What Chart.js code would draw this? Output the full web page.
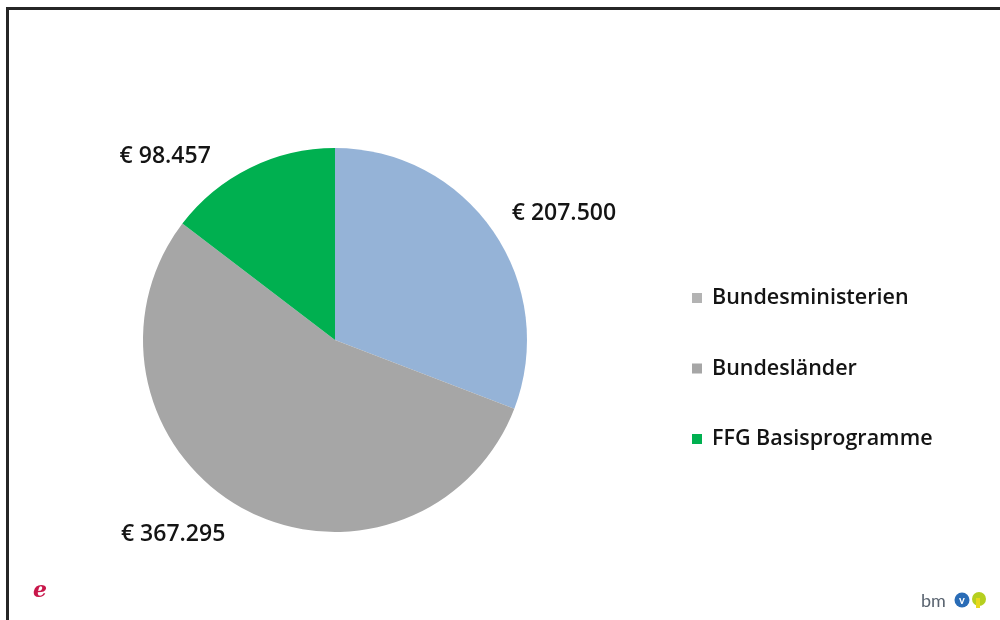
<!DOCTYPE html>
<html>
<head>
<meta charset="utf-8">
<script src="https://cdn.jsdelivr.net/npm/chart.js@4"></script>
<style>
  html, body { margin: 0; padding: 0; background: #fff; }
  #wrap { position: relative; width: 1000px; height: 620px; }
  #frame { position: absolute; left: 6px; top: 7px; right: 0; bottom: 0;
           border-top: 3px solid #262626; border-left: 3px solid #262626; }
  canvas { position: absolute; left: 0; top: 0; }
</style>
</head>
<body>
<div id="wrap">
  <div id="frame"></div>
  <canvas id="chart" width="1000" height="620"></canvas>
</div>
<script>
// Finanzierung nach Quelle
const labels = ['Bundesministerien', 'Bundesländer', 'FFG Basisprogramme'];
const values = [207500, 367295, 98457];
const sliceColors = ['#95b3d7', '#a6a6a6', '#00b050'];
const legendColors = ['#b3b3b3', '#a6a6a6', '#00b050'];

const FONT = '"Open Sans", Lato, sans-serif';

function euro(v) {
  return '€ ' + String(v).replace(/\B(?=(\d{3})+(?!\d))/g, '.');
}

// Wertbeschriftungen außerhalb der Segmente (kleine Korrekturen wie bei Excel "optimale Anpassung")
const labelNudge = [[-2, -4], [-4, 5], [-28, 11]];

const valueLabels = {
  id: 'valueLabels',
  afterDatasetsDraw(chart) {
    const ctx = chart.ctx;
    const arcs = chart.getDatasetMeta(0).data;
    ctx.save();
    ctx.font = '600 23px ' + FONT;
    ctx.fillStyle = '#141414';
    ctx.textBaseline = 'middle';
    arcs.forEach((arc, i) => {
      const p = arc.getProps(['x', 'y', 'startAngle', 'endAngle', 'outerRadius']);
      const mid = (p.startAngle + p.endAngle) / 2;
      const r = p.outerRadius * 1.13;
      const tx = p.x + Math.cos(mid) * r + labelNudge[i][0];
      const ty = p.y + Math.sin(mid) * r + labelNudge[i][1];
      ctx.textAlign = Math.cos(mid) >= 0 ? 'left' : 'right';
      ctx.fillText(euro(chart.data.datasets[0].data[i]), tx, ty);
    });
    ctx.restore();
  }
};

// Legende rechts
const sideLegend = {
  id: 'sideLegend',
  afterDraw(chart) {
    const ctx = chart.ctx;
    ctx.save();
    ctx.font = '600 21.5px ' + FONT;
    ctx.textBaseline = 'middle';
    ctx.textAlign = 'left';
    chart.data.labels.forEach((lab, i) => {
      const y = 298 + i * 70.5;
      ctx.fillStyle = legendColors[i];
      ctx.fillRect(692, y - 5, 10, 10);
      ctx.fillStyle = '#141414';
      ctx.fillText(lab, 712, y);
    });
    ctx.restore();
  }
};

// Logos unten
const logos = {
  id: 'logos',
  afterDraw(chart) {
    const ctx = chart.ctx;
    ctx.save();
    ctx.font = 'italic bold 22px "DejaVu Serif", serif';
    ctx.fillStyle = '#c8174a';
    ctx.textBaseline = 'alphabetic';
    ctx.fillText('e', 33, 597);
    ctx.font = '18px Lato, sans-serif';
    ctx.fillStyle = '#5a6470';
    ctx.fillText('bm', 921, 607);
    ctx.fillStyle = '#2a6cb6';
    ctx.beginPath();
    ctx.arc(962, 600, 7.5, 0, Math.PI * 2);
    ctx.fill();
    ctx.fillStyle = '#fff';
    ctx.font = 'bold 11px Lato, sans-serif';
    ctx.textAlign = 'center';
    ctx.fillText('v', 962, 604);
    ctx.fillStyle = '#b5cf1f';
    ctx.beginPath();
    ctx.arc(979, 599, 7, 0, Math.PI * 2);
    ctx.fill();
    ctx.fillStyle = '#e8d81c';
    ctx.fillRect(976, 598, 4, 10);
    ctx.restore();
  }
};

new Chart(document.getElementById('chart'), {
  type: 'pie',
  data: {
    labels,
    datasets: [{
      data: values,
      backgroundColor: sliceColors,
      borderWidth: 0
    }]
  },
  options: {
    responsive: false,
    animation: false,
    events: [],
    layout: { padding: { left: 143, right: 473, top: 148, bottom: 88 } },
    plugins: {
      legend: { display: false },
      tooltip: { enabled: false }
    }
  },
  plugins: [valueLabels, sideLegend, logos]
});
</script>
</body>
</html>
